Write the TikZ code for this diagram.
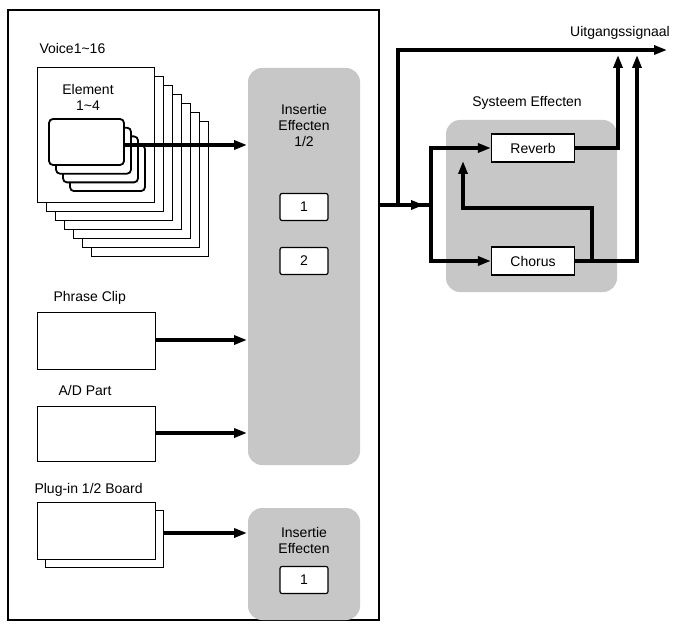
\documentclass[tikz,border=0pt]{standalone}
\usepackage{fontspec}
\setmainfont{Liberation Sans}
\usetikzlibrary{arrows.meta}
\begin{document}
\begin{tikzpicture}[x=1pt,y=-1pt,
  lbl/.style={font=\fontsize{14}{16}\selectfont},
  card/.style={draw,line width=0.8pt,fill=white},
  ecard/.style={draw,line width=1.8pt,fill=white,rounded corners=4pt},
  grey/.style={fill=black!22,rounded corners=14pt},
  fx/.style={draw,line width=1.2pt,fill=white,rounded corners=2pt,minimum width=48pt,minimum height=27pt,font=\fontsize{14}{16}\selectfont},
  sfx/.style={draw,line width=1.2pt,fill=white,minimum width=83pt,minimum height=28pt,font=\fontsize{14}{16}\selectfont},
  sig/.style={line width=3.2pt,-{Triangle[length=13pt,width=9pt]}},
  wire/.style={line width=3.2pt}]
\useasboundingbox (0,0) rectangle (687,628);
\draw[line width=1.2pt] (8,10) rectangle (379,620);
% voice stack
\foreach \i in {6,5,...,0}{\draw[card] (37+9*\i,67+9*\i) rectangle (154+9*\i,202+9*\i);}
\node[lbl,anchor=west] (voice) at (36,48) {Voice1\textasciitilde16};
\node[lbl,align=center] (elem) at (88,97) {Element\\1\textasciitilde4};
\foreach \i in {3,2,1,0}{\draw[ecard] (49+7*\i,119+8.7*\i) rectangle (124+7*\i,165+8.7*\i);}
\coordinate (eout) at (124,145);
% insertion
\fill[grey] (248,68) rectangle (360,465);
\node[lbl,align=center] (ins) at (304,125) {Insertie\\Effecten\\1/2};
\node[fx] (i1) at (304,207) {1};
\node[fx] (i2) at (304,261) {2};
\coordinate (ein) at (247,145);
\draw[sig] (eout) -- (ein);
% phrase clip
\node[lbl,anchor=west] (pc) at (50,298) {Phrase Clip};
\node[card,minimum width=118pt,minimum height=57pt] (pcb) at (96,341) {};
\draw[sig] (pcb.east |- 0,340) -- (247,340);
\node[lbl,anchor=west] (ad) at (55,390) {A/D Part};
\node[card,minimum width=118pt,minimum height=55pt] (adb) at (96,434) {};
\draw[sig] (adb.east |- 0,433) -- (247,433);
\node[lbl,anchor=west] (pl) at (31,490) {Plug-in 1/2 Board};
\node[card,minimum width=118pt,minimum height=57pt] (plb2) at (104,539) {};
\node[card,minimum width=118pt,minimum height=57pt] (plb) at (96,531) {};
\draw[sig] (plb2.east |- 0,533) -- (247,533);
\fill[grey] (248,508) rectangle (360,620);
\node[lbl,align=center] (ins2) at (304,540) {Insertie\\Effecten};
\node[fx] (j1) at (304,580) {1};
% right side
\node[lbl] (out) at (620,33) {Uitgangssignaal};
\fill[grey] (446,120) rectangle (617,292);
\node[lbl] (sys) at (527,103) {Systeem Effecten};
\node[sfx] (rev) at (533,148) {Reverb};
\node[sfx] (cho) at (533,261) {Chorus};
\coordinate (o) at (379,205);
\coordinate (sp) at (431,205);
\draw[wire] (o) -- (sp);
\draw[sig] (o) -- (424,205);
\draw[sig] (398,205) -- (398,50) -- (667,50);
\draw[sig] (sp) |- (rev.west);
\draw[sig] (sp) |- (cho.west);
\draw[sig] (rev.east) -| (618,55);
\draw[sig] (cho.east) -| (637,55);
\draw[sig] (592,261) -- (592,208) -- (463,208) -- (463,161);
\end{tikzpicture}
\end{document}
